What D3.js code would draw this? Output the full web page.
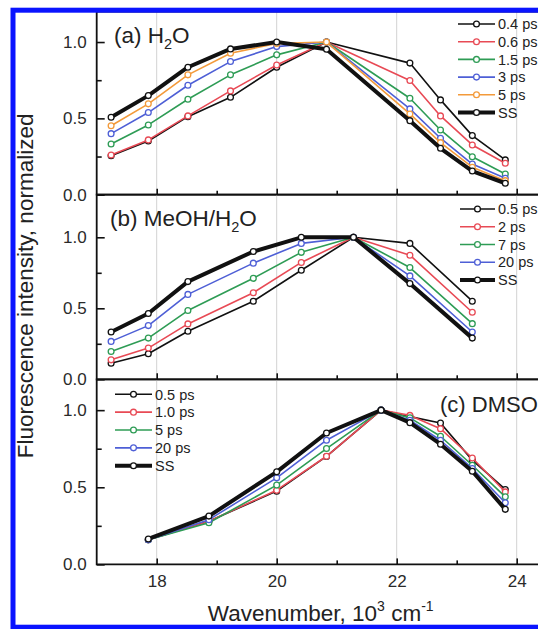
<!DOCTYPE html>
<html>
<head>
<meta charset="utf-8">
<script src="https://cdn.jsdelivr.net/npm/d3@7"></script>
<style>
  html, body { margin: 0; padding: 0; background: #fff; overflow: hidden; }
  svg { display: block; font-family: "Liberation Sans", Arial, Helvetica, sans-serif; }
</style>
</head>
<body>
<svg id="chart" width="538" height="629"></svg>
<script>
// ---- data: normalized time-resolved emission spectra (wavenumber in 10^3 cm^-1) ----
const wavenumberH2O  = [17.24, 17.86, 18.52, 19.23, 20.00, 20.83, 22.22, 22.73, 23.26, 23.81];
const delaysH2O      = ["0.4 ps", "0.6 ps", "1.5 ps", "3 ps", "5 ps", "SS"];
const h2o_0p4 = [0.255, 0.352, 0.511, 0.638, 0.835, 1.000, 0.862, 0.621, 0.387, 0.228];
const h2o_0p6 = [0.260, 0.359, 0.516, 0.680, 0.850, 1.000, 0.748, 0.516, 0.326, 0.206];
const h2o_1p5 = [0.332, 0.457, 0.625, 0.785, 0.916, 1.000, 0.632, 0.424, 0.249, 0.136];
const h2o_3   = [0.400, 0.538, 0.717, 0.872, 0.970, 1.000, 0.562, 0.370, 0.201, 0.108];
const h2o_5   = [0.452, 0.595, 0.785, 0.927, 0.990, 1.000, 0.529, 0.341, 0.180, 0.092];
const h2o_ss  = [0.507, 0.649, 0.835, 0.955, 1.000, 0.953, 0.485, 0.304, 0.155, 0.075];

const wavenumberMeOH = [17.24, 17.86, 18.52, 19.61, 20.41, 21.28, 22.22, 23.26];
const delaysMeOH     = ["0.5 ps", "2 ps", "7 ps", "20 ps", "SS"];
const meoh_0p5 = [0.113, 0.180, 0.338, 0.550, 0.768, 1.000, 0.957, 0.550];
const meoh_2   = [0.137, 0.220, 0.390, 0.610, 0.823, 1.000, 0.874, 0.472];
const meoh_7   = [0.196, 0.290, 0.484, 0.711, 0.894, 1.000, 0.787, 0.392];
const meoh_20  = [0.267, 0.378, 0.598, 0.818, 0.957, 1.000, 0.728, 0.333];
const meoh_ss  = [0.333, 0.463, 0.688, 0.900, 1.000, 1.000, 0.674, 0.290];

const wavenumberDMSO = [17.86, 18.87, 20.00, 20.83, 21.74, 22.22, 22.73, 23.26, 23.81];
const delaysDMSO     = ["0.5 ps", "1.0 ps", "5 ps", "20 ps", "SS"];
const dmso_0p5 = [0.160, 0.280, 0.475, 0.700, 1.000, 0.958, 0.917, 0.676, 0.486];
const dmso_1   = [0.160, 0.280, 0.481, 0.701, 1.000, 0.966, 0.880, 0.690, 0.470];
const dmso_5   = [0.160, 0.270, 0.514, 0.751, 1.000, 0.950, 0.831, 0.643, 0.438];
const dmso_20  = [0.160, 0.290, 0.561, 0.805, 1.000, 0.935, 0.805, 0.622, 0.400];
const dmso_ss  = [0.165, 0.313, 0.600, 0.852, 1.000, 0.919, 0.779, 0.604, 0.357];

const xTicksMajor = [18, 20, 22, 24];
const xTicksMinor = [19, 21, 23];
const yTicksMajor = [0, 0.5, 1.0];
const yTicksMinor = [0.25, 0.75];

// ---- styling ----
const BLACK = "#111111", RED = "#e84a55", GREEN = "#2e9c55", BLUE = "#4e5fd6", ORANGE = "#f39a3a";
const colorsH2O  = [BLACK, RED, GREEN, BLUE, ORANGE, BLACK];
const colorsFive = [BLACK, RED, GREEN, BLUE, BLACK];

const svg = d3.select("#chart");
const plotLeft = 96.7, plotRight = 546.7;
const x = d3.scaleLinear().domain([17, 24.5]).range([plotLeft, plotRight]);

const panels = [
  { name: ["(a) H", "2", "O"], top: 11.5, bottom: 194.7, ymax: 1.2,
    xs: wavenumberH2O, labels: delaysH2O, colors: colorsH2O,
    values: [h2o_0p4, h2o_0p6, h2o_1p5, h2o_3, h2o_5, h2o_ss],
    nameAt: [114, 42.5], nameSize: 22.5, legendAt: [458, 495, 24, 17.7] },
  { name: ["(b) MeOH/H", "2", "O"], top: 194.7, bottom: 379.3, ymax: 1.3,
    xs: wavenumberMeOH, labels: delaysMeOH, colors: colorsFive,
    values: [meoh_0p5, meoh_2, meoh_7, meoh_20, meoh_ss],
    nameAt: [110, 226], nameSize: 22.5, legendAt: [460, 495, 209, 17.75] },
  { name: ["(c) DMSO"], top: 379.3, bottom: 564.4, ymax: 1.2,
    xs: wavenumberDMSO, labels: delaysDMSO, colors: colorsFive,
    values: [dmso_0p5, dmso_1, dmso_5, dmso_20, dmso_ss],
    nameAt: [440, 412], nameSize: 22, legendAt: [115, 152, 394.3, 17.85], xLabels: true }
];

panels.forEach(p => {
  const y = d3.scaleLinear().domain([0, p.ymax]).range([p.bottom, p.top]);
  const g = svg.append("g");

  // vertical grid lines at major wavenumbers
  g.selectAll("line.grid").data(xTicksMajor).join("line")
    .attr("x1", d => x(d)).attr("x2", d => x(d))
    .attr("y1", p.top).attr("y2", p.bottom)
    .attr("stroke", "#d2d2d2").attr("stroke-width", 1);

  // bottom axis (inward ticks)
  const xMaj = g.append("g").attr("transform", `translate(0,${p.bottom})`)
    .call(d3.axisBottom(x).tickValues(xTicksMajor).tickSize(-6).tickPadding(11)
      .tickFormat(p.xLabels ? d3.format("d") : () => ""));
  const xMin = g.append("g").attr("transform", `translate(0,${p.bottom})`)
    .call(d3.axisBottom(x).tickValues(xTicksMinor).tickSize(-4).tickFormat(() => ""));

  // left axis (inward ticks)
  const yMaj = g.append("g").attr("transform", `translate(${plotLeft},0)`)
    .call(d3.axisLeft(y).tickValues(yTicksMajor).tickSize(-8).tickPadding(10).tickFormat(d3.format(".1f")));
  const yMin = g.append("g").attr("transform", `translate(${plotLeft},0)`)
    .call(d3.axisLeft(y).tickValues(yTicksMinor).tickSize(-5).tickFormat(() => ""));

  [xMaj, xMin, yMaj, yMin].forEach(a => {
    a.select(".domain").remove();
    a.selectAll(".tick line").attr("stroke", BLACK).attr("stroke-width", 1.6);
    a.selectAll(".tick text").attr("fill", "#2a2a2a").attr("font-size", 17)
      .attr("font-family", "'Liberation Sans', Arial, sans-serif");
  });

  // frame: left, top and bottom edges
  g.append("path")
    .attr("d", `M${plotRight},${p.top}H${plotLeft}V${p.bottom}H${plotRight}`)
    .attr("fill", "none").attr("stroke", BLACK).attr("stroke-width", 1.8);

  // series
  const line = d3.line().x((d, i) => x(p.xs[i])).y(d => y(d));
  p.values.forEach((vals, k) => {
    const isSS = p.labels[k] === "SS";
    const sg = g.append("g");
    sg.append("path").datum(vals).attr("d", line)
      .attr("fill", "none").attr("stroke", p.colors[k])
      .attr("stroke-width", isSS ? 4 : 1.6).attr("stroke-linejoin", "round");
    sg.selectAll("circle").data(vals).join("circle")
      .attr("cx", (d, i) => x(p.xs[i])).attr("cy", d => y(d)).attr("r", 2.9)
      .attr("fill", "#fff").attr("stroke", p.colors[k]).attr("stroke-width", 1.3);
  });

  // panel name
  const t = g.append("text").attr("x", p.nameAt[0]).attr("y", p.nameAt[1])
    .attr("font-size", p.nameSize).attr("fill", "#222");
  t.append("tspan").text(p.name[0]);
  if (p.name.length > 1) {
    t.append("tspan").text(p.name[1]).attr("font-size", 14.5).attr("dy", 6);
    t.append("tspan").text(p.name[2]).attr("dy", -6);
  }

  // legend
  const [lx0, lx1, ly0, ldy] = p.legendAt;
  p.labels.forEach((lab, k) => {
    const ly = ly0 + k * ldy;
    const isSS = lab === "SS";
    g.append("line").attr("x1", lx0).attr("x2", lx1).attr("y1", ly).attr("y2", ly)
      .attr("stroke", p.colors[k]).attr("stroke-width", isSS ? 4 : 1.6);
    g.append("circle").attr("cx", (lx0 + lx1) / 2).attr("cy", ly).attr("r", 2.9)
      .attr("fill", "#fff").attr("stroke", p.colors[k]).attr("stroke-width", 1.3);
    g.append("text").attr("x", lx1 + 3).attr("y", ly).attr("dy", "0.36em")
      .attr("font-size", 14.5).attr("fill", "#222").text(lab);
  });
});

// axis titles
svg.append("text")
  .attr("transform", `translate(33,${(11.5 + 564.4) / 2 - 2}) rotate(-90)`)
  .attr("text-anchor", "middle").attr("font-size", 22.5).attr("fill", "#222")
  .text("Fluorescence intensity, normalized");

const xt = svg.append("text").attr("x", (plotLeft + plotRight) / 2 - 1).attr("y", 621)
  .attr("text-anchor", "middle").attr("font-size", 22.5).attr("fill", "#222");
xt.append("tspan").text("Wavenumber, 10");
xt.append("tspan").text("3").attr("font-size", 14).attr("dy", -10);
xt.append("tspan").text(" cm").attr("font-size", 22.5).attr("dy", 10);
xt.append("tspan").text("-1").attr("font-size", 14).attr("dy", -10);

// outer blue frame
svg.append("rect").attr("x", 13).attr("y", 10.2).attr("width", 600).attr("height", 617)
  .attr("fill", "none").attr("stroke", "#0a14ff").attr("stroke-width", 5);
</script>
</body>
</html>
